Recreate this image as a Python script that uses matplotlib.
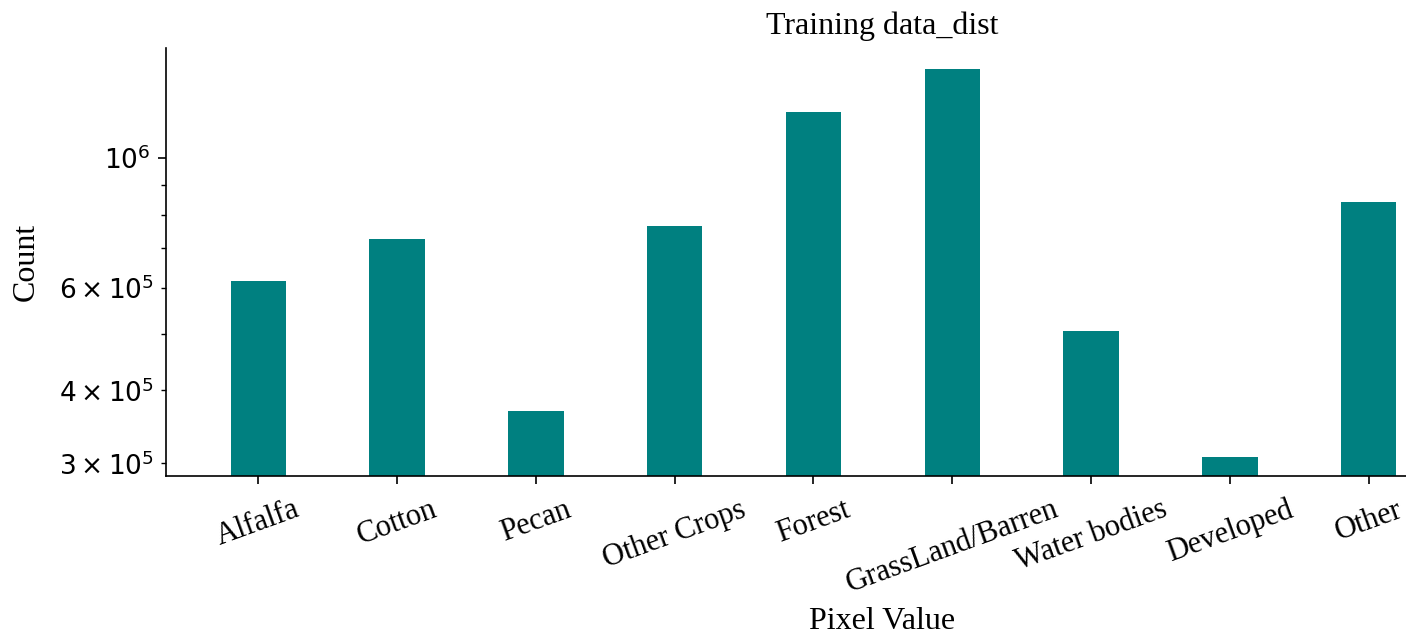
import matplotlib
matplotlib.use("Agg")
import matplotlib.pyplot as plt
import numpy as np

# Class labels and pixel counts in the training set
categories = ["Alfalfa", "Cotton", "Pecan", "Other Crops", "Forest",
              "GrassLand/Barren", "Water bodies", "Developed", "Other"]
counts = [615000, 726500, 368800, 764800, 1200000, 1420000, 505600, 307300, 840800]

BAR_COLOR = "#008080"
SERIF = ["Liberation Serif", "DejaVu Serif"]

W, H = 1406, 638
fig = plt.figure(figsize=(W / 100, H / 100), dpi=100)

# axes box in pixels (left, top, right, bottom); right side runs past the canvas
left_px, top_px, right_px, bottom_px = 165.7, 48.0, 1598.0, 475.7
ax = fig.add_axes([left_px / W, 1 - bottom_px / H,
                   (right_px - left_px) / W, (bottom_px - top_px) / H])

x = np.arange(len(categories))
ax.bar(x, counts, width=0.4, color=BAR_COLOR)
ax.set_yscale("log")
ax.set_ylim(2.858e5, 1.543e6)
ax.set_xlim(-0.667, 9.652)

ax.set_xticks(x)
ax.set_xticklabels(categories, rotation=20, family=SERIF, fontsize=22)

for side in ("top", "right"):
    ax.spines[side].set_visible(False)
for side in ("left", "bottom"):
    ax.spines[side].set_linewidth(1.2)

ax.tick_params(axis="x", which="major", length=6, width=1.2, pad=8)
ax.tick_params(axis="y", which="major", length=6, width=1.2, labelsize=19, pad=5)
ax.tick_params(axis="y", which="minor", length=3.5, width=1.0, labelsize=19, pad=5)

ax.set_title("Training data_dist", family=SERIF, fontsize=23, pad=10)
ax.set_xlabel("Pixel Value", family=SERIF, fontsize=23, labelpad=6)
ax.set_ylabel("Count", family=SERIF, fontsize=23, labelpad=13)

fig.savefig("out.png", dpi=100)
